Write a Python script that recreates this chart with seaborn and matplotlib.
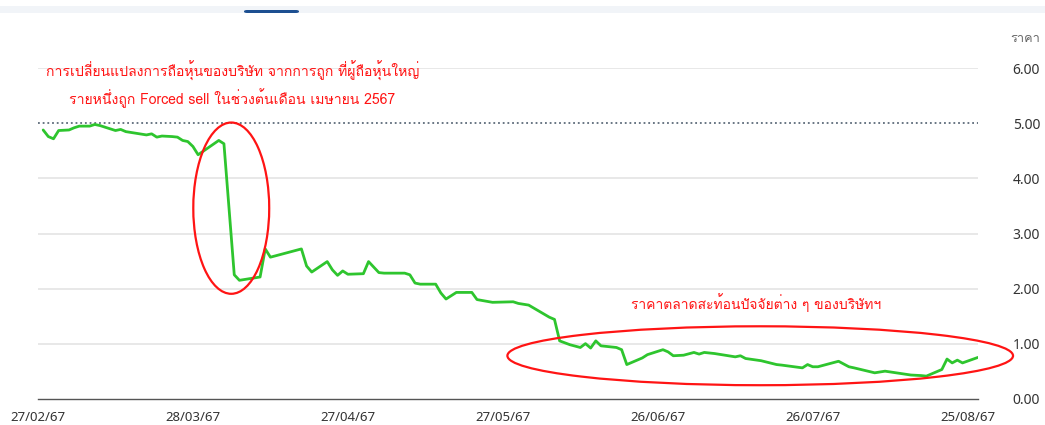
import matplotlib
matplotlib.use("Agg")
import matplotlib.pyplot as plt
import matplotlib.dates as mdates
from matplotlib import font_manager
from matplotlib.patches import Ellipse, Rectangle, FancyBboxPatch
import pandas as pd
import seaborn as sns

# ---------------- data ----------------
dates = [
    "2024-02-28", "2024-02-29", "2024-03-01", "2024-03-02", "2024-03-04", "2024-03-05",
    "2024-03-06", "2024-03-08", "2024-03-09", "2024-03-10", "2024-03-11", "2024-03-12",
    "2024-03-13", "2024-03-14", "2024-03-15", "2024-03-17", "2024-03-19", "2024-03-20",
    "2024-03-21", "2024-03-22", "2024-03-24", "2024-03-25", "2024-03-26", "2024-03-27",
    "2024-03-28", "2024-03-29", "2024-04-02", "2024-04-03", "2024-04-05", "2024-04-06",
    "2024-04-10", "2024-04-11", "2024-04-12", "2024-04-18", "2024-04-19", "2024-04-20",
    "2024-04-23", "2024-04-24", "2024-04-25", "2024-04-26", "2024-04-27", "2024-04-30",
    "2024-05-01", "2024-05-03", "2024-05-04", "2024-05-08", "2024-05-09", "2024-05-10",
    "2024-05-11", "2024-05-14", "2024-05-15", "2024-05-16", "2024-05-18", "2024-05-21",
    "2024-05-22", "2024-05-25", "2024-05-29", "2024-05-30", "2024-06-01", "2024-06-05",
    "2024-06-06", "2024-06-07", "2024-06-09", "2024-06-11", "2024-06-12", "2024-06-13",
    "2024-06-14", "2024-06-15", "2024-06-18", "2024-06-19", "2024-06-20", "2024-06-21",
    "2024-06-23", "2024-06-24", "2024-06-25", "2024-06-27", "2024-06-28", "2024-06-29",
    "2024-07-01", "2024-07-03", "2024-07-04", "2024-07-05", "2024-07-07", "2024-07-11",
    "2024-07-12", "2024-07-13", "2024-07-16", "2024-07-19", "2024-07-20", "2024-07-24",
    "2024-07-25", "2024-07-26", "2024-07-27", "2024-07-31", "2024-08-02", "2024-08-03",
    "2024-08-07", "2024-08-09", "2024-08-14", "2024-08-16", "2024-08-17", "2024-08-20",
    "2024-08-21", "2024-08-22", "2024-08-23", "2024-08-24", "2024-08-27",
]
prices = [
    4.88, 4.76, 4.72, 4.87, 4.88, 4.92,
    4.95, 4.95, 4.98, 4.96, 4.93, 4.90,
    4.87, 4.89, 4.85, 4.82, 4.79, 4.81,
    4.75, 4.77, 4.76, 4.75, 4.69, 4.67,
    4.58, 4.43, 4.69, 4.63, 2.25, 2.15,
    2.21, 2.72, 2.57, 2.72, 2.41, 2.30,
    2.49, 2.34, 2.24, 2.32, 2.26, 2.27,
    2.49, 2.29, 2.28, 2.28, 2.25, 2.10,
    2.08, 2.08, 1.92, 1.81, 1.93, 1.93,
    1.80, 1.75, 1.76, 1.73, 1.70, 1.48,
    1.44, 1.05, 0.98, 0.93, 1.00, 0.92,
    1.05, 0.96, 0.93, 0.89, 0.62, 0.66,
    0.74, 0.80, 0.83, 0.89, 0.85, 0.78,
    0.79, 0.84, 0.81, 0.84, 0.82, 0.76,
    0.78, 0.73, 0.69, 0.62, 0.61, 0.56,
    0.62, 0.58, 0.58, 0.68, 0.58, 0.56,
    0.47, 0.50, 0.43, 0.42, 0.41, 0.53,
    0.72, 0.65, 0.70, 0.65, 0.75,
]
tick_dates = ["2024-02-27", "2024-03-28", "2024-04-27", "2024-05-27",
              "2024-06-26", "2024-07-26", "2024-08-25"]
tick_labels = ["27/02/67", "28/03/67", "27/04/67", "27/05/67",
               "26/06/67", "26/07/67", "25/08/67"]
y_ticks = [0, 1, 2, 3, 4, 5, 6]
y_tick_labels = ["0.00", "1.00", "2.00", "3.00", "4.00", "5.00", "6.00"]
reference_price = 5.0
y_axis_title = "ราคา"
note_forced_sell = ("การเปลี่ยนแปลงการถือหุ้นของบริษัท จากการถูก ที่ผู้ถือหุ้นใหญ่\n"
                    "รายหนึ่งถูก Forced sell ในช่วงต้นเดือน เมษายน 2567")
note_market = "ราคาตลาดสะท้อนปัจจัยต่าง ๆ ของบริษัทฯ"

# ---------------- style ----------------
sns.set_style("white")
avail = {f.name for f in font_manager.fontManager.ttflist}
thai_font = "DejaVu Sans"
for cand in ["Loma", "Noto Sans Thai", "Sarabun", "Niramit"]:
    if cand in avail:
        thai_font = cand
        break
latin_font = "Noto Sans" if "Noto Sans" in avail else "DejaVu Sans"
plt.rcParams["font.family"] = [latin_font, thai_font, "DejaVu Sans"]

df = pd.DataFrame({"date": pd.to_datetime(dates), "price": prices})

fig = plt.figure(figsize=(10.45, 4.25), dpi=100)
ax = fig.add_axes([38 / 1045, 26.3 / 425, 940 / 1045, 330.4 / 425])

# top decorative band
fig.patches.append(Rectangle((0, 1 - 12.5 / 425), 1, 6.5 / 425, transform=fig.transFigure,
                             facecolor="#f1f4f8", edgecolor="none", zorder=0))
fig.patches.append(FancyBboxPatch((244 / 1045, 1 - 13 / 425), 55 / 1045, 3 / 425,
                                  boxstyle="round,pad=0,rounding_size=0.003",
                                  transform=fig.transFigure, facecolor="#1d4f91",
                                  edgecolor="none", zorder=1))

# grid lines
for yv in y_ticks[1:]:
    if yv == reference_price:
        continue
    ax.axhline(yv, color="#e2e2e2", lw=1.1, zorder=1)
ax.axhline(reference_price, color="#5d6b7a", lw=1.3, ls=(0, (1, 1.6)), zorder=2)

sns.lineplot(data=df, x="date", y="price", ax=ax, color="#2ec52e", lw=2.0, zorder=3)

x0 = pd.Timestamp("2024-02-27")
x1 = pd.Timestamp("2024-08-27")
ax.set_xlim(x0, x1)
ax.set_ylim(0, 6)

ax.set_xticks(pd.to_datetime(tick_dates))
ax.set_xticklabels(tick_labels, fontsize=9.5, color="#333333")
ax.tick_params(axis="x", direction="out", length=6.5, width=1.0, color="#555555", pad=2.5)

ax.yaxis.tick_right()
ax.set_yticks(y_ticks)
ax.set_yticklabels(y_tick_labels, fontsize=10, color="#333333")
ax.tick_params(axis="y", length=0, pad=25)

for s in ["left", "right", "top"]:
    ax.spines[s].set_visible(False)
ax.spines["bottom"].set_color("#555555")
ax.spines["bottom"].set_linewidth(1.0)
ax.set_xlabel("")
ax.set_ylabel("")

# y axis title
fig.text(1040 / 1045, 1 - 39 / 425, y_axis_title, ha="right", va="center",
         fontsize=9.2, color="#666666", family=[thai_font, "DejaVu Sans"])

# annotations
red = "#ff1414"
dn = mdates.date2num
ax.add_patch(Ellipse((dn(pd.Timestamp("2024-04-04 10:00")), 3.46), 14.7, 3.11,
                     fill=False, edgecolor=red, lw=1.6, zorder=4, clip_on=False))
ax.add_patch(Ellipse((dn(pd.Timestamp("2024-07-15 20:00")), 0.78), 97.9, 1.07,
                     fill=False, edgecolor=red, lw=1.6, zorder=4, clip_on=False))
ax.text(dn(pd.Timestamp("2024-04-04 16:00")), 5.71, note_forced_sell, ha="center", va="center",
        color=red, fontsize=10.1, linespacing=1.42, family=[thai_font, "DejaVu Sans"])
ax.text(dn(pd.Timestamp("2024-07-15")), 1.74, note_market, ha="center", va="center",
        color=red, fontsize=10.0, family=[thai_font, "DejaVu Sans"], clip_on=False)

fig.savefig("out.png", dpi=100)
